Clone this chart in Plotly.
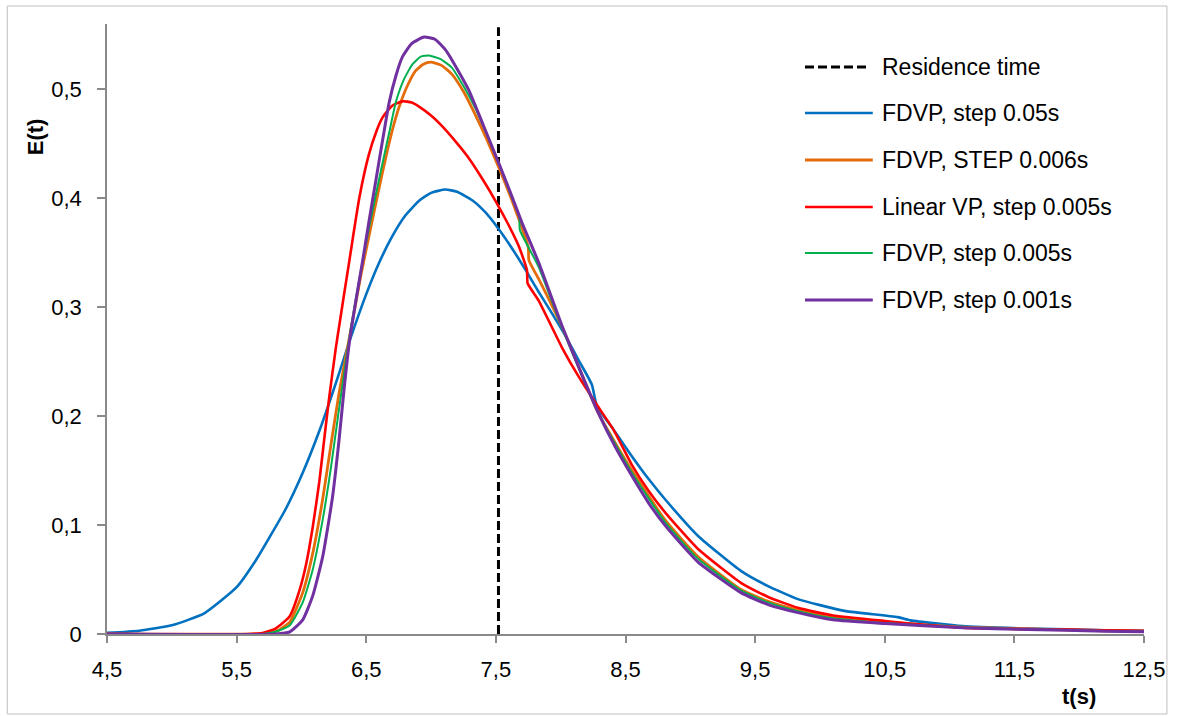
import plotly.graph_objects as go

# ---------------- data ----------------
residence_time = 7.52

t_fdvp_005 = [4.5, 4.75, 5.0, 5.25, 5.5, 5.65, 5.75, 5.88, 6.01, 6.14, 6.27, 6.38, 6.5, 6.6, 6.7,
              6.8, 6.91, 7.0, 7.11, 7.2, 7.32, 7.42, 7.52, 7.63, 7.73, 7.83, 7.94, 8.04, 8.14,
              8.24, 8.28, 8.4, 8.55, 8.68, 8.81, 9.06, 9.39, 9.6, 9.83, 10.0, 10.2, 10.6, 10.7,
              11.1, 11.6, 12.2, 12.5]
e_fdvp_005 = [0.001, 0.003, 0.008, 0.019, 0.043, 0.068, 0.088, 0.115, 0.148, 0.187, 0.232, 0.272,
              0.312, 0.341, 0.365, 0.384, 0.398, 0.405, 0.408, 0.406, 0.398, 0.387, 0.372, 0.353,
              0.334, 0.314, 0.293, 0.273, 0.251, 0.229, 0.209, 0.189, 0.163, 0.142, 0.123, 0.090,
              0.058, 0.044, 0.032, 0.0265, 0.021, 0.0155, 0.0125, 0.0072, 0.0050, 0.0035, 0.0030]

t_fdvp_0006 = [4.5, 5.65, 5.75, 5.83, 5.91, 6.01, 6.087, 6.164, 6.228, 6.29, 6.39, 6.46, 6.536,
               6.6, 6.65, 6.7, 6.754, 6.82, 6.88, 6.94, 6.997, 7.08, 7.16, 7.25, 7.34, 7.43, 7.52,
               7.64, 7.75, 7.755, 7.83, 8.01, 8.29, 8.55, 8.81, 9.06, 9.39, 9.6, 9.83, 10.1, 10.5,
               11.1, 11.6, 12.2, 12.5]
e_fdvp_0006 = [0, 0, 0.001, 0.004, 0.011, 0.038, 0.074, 0.124, 0.174, 0.221, 0.285, 0.330, 0.374,
               0.410, 0.437, 0.462, 0.484, 0.504, 0.517, 0.523, 0.525, 0.522, 0.514, 0.498, 0.477,
               0.454, 0.429, 0.393, 0.355, 0.343, 0.326, 0.282, 0.203, 0.150, 0.104, 0.071, 0.041,
               0.030, 0.022, 0.015, 0.011, 0.0062, 0.0046, 0.0030, 0.0024]

t_linear_0005 = [4.5, 5.6, 5.7, 5.8, 5.908, 5.985, 6.036, 6.087, 6.138, 6.177, 6.215, 6.267,
                 6.37, 6.446, 6.52, 6.58, 6.625, 6.7, 6.78, 6.85, 6.91, 7.0, 7.087, 7.19, 7.29,
                 7.40, 7.50, 7.60, 7.677, 7.74, 7.745, 7.83, 8.01, 8.14, 8.27, 8.41, 8.55, 8.68,
                 8.81, 9.06, 9.39, 9.6, 9.83, 10.1, 10.5, 11.1, 11.6, 12.2, 12.5]
e_linear_0005 = [0, 0, 0.001, 0.005, 0.016, 0.040, 0.064, 0.098, 0.140, 0.180, 0.218, 0.264,
                 0.343, 0.400, 0.440, 0.462, 0.474, 0.485, 0.489, 0.488, 0.484, 0.476, 0.466,
                 0.452, 0.437, 0.417, 0.397, 0.375, 0.356, 0.334, 0.322, 0.306, 0.263, 0.236,
                 0.212, 0.187, 0.155, 0.131, 0.111, 0.078, 0.047, 0.034, 0.024, 0.017, 0.012,
                 0.0057, 0.0045, 0.0035, 0.003]

t_fdvp_0005 = [4.5, 5.7, 5.8, 5.91, 6.01, 6.087, 6.164, 6.228, 6.28, 6.33, 6.38, 6.45, 6.52,
               6.575, 6.625, 6.68, 6.73, 6.79, 6.856, 6.92, 6.985, 7.07, 7.16, 7.25, 7.34, 7.43,
               7.52, 7.6, 7.68, 7.685, 7.83, 8.01, 8.29, 8.55, 8.81, 9.06, 9.39, 9.6, 9.83, 10.1,
               10.5, 11.1, 11.6, 12.2, 12.5]
e_fdvp_0005 = [0, 0, 0.002, 0.008, 0.029, 0.059, 0.105, 0.153, 0.198, 0.240, 0.280, 0.328, 0.372,
               0.404, 0.432, 0.462, 0.489, 0.509, 0.523, 0.530, 0.531, 0.528, 0.520, 0.503, 0.483,
               0.459, 0.433, 0.408, 0.383, 0.371, 0.337, 0.281, 0.203, 0.148, 0.102, 0.069,
               0.040, 0.029, 0.021, 0.0145, 0.010, 0.006, 0.0044, 0.0028, 0.0022]

t_fdvp_0001 = [4.5, 5.8, 5.91, 6.01, 6.087, 6.164, 6.24, 6.29, 6.33, 6.37, 6.42, 6.47, 6.52,
               6.575, 6.63, 6.677, 6.73, 6.78, 6.85, 6.946, 7.03, 7.113, 7.2, 7.29, 7.4, 7.523,
               7.61, 7.70, 7.83, 8.01, 8.15, 8.29, 8.42, 8.55, 8.68, 8.81, 9.06, 9.39, 9.6, 9.83,
               10.1, 10.5, 11.1, 11.6, 12.2, 12.5]
e_fdvp_0001 = [0, 0, 0.002, 0.013, 0.035, 0.071, 0.126, 0.178, 0.226, 0.268, 0.306, 0.341, 0.378,
               0.417, 0.456, 0.488, 0.513, 0.530, 0.542, 0.548, 0.546, 0.536, 0.519, 0.4995,
               0.468, 0.432, 0.406, 0.378, 0.341, 0.283, 0.242, 0.203, 0.172, 0.145, 0.120,
               0.099, 0.066, 0.038, 0.027, 0.0196, 0.013, 0.0096, 0.0057, 0.0042, 0.0026, 0.002]

x_tick_vals = [4.5, 5.5, 6.5, 7.5, 8.5, 9.5, 10.5, 11.5, 12.5]
x_tick_text = ["4,5", "5,5", "6,5", "7,5", "8,5", "9,5", "10,5", "11,5", "12,5"]
y_tick_vals = [0, 0.1, 0.2, 0.3, 0.4, 0.5]
y_tick_text = ["0", "0,1", "0,2", "0,3", "0,4", "0,5"]

series_names = ["Residence time", "FDVP, step 0.05s", "FDVP, STEP 0.006s",
                "Linear VP, step 0.005s", "FDVP, step 0.005s", "FDVP, step 0.001s"]

# ---------------- styling ----------------
FONT = "Liberation Sans"
W, H = 1177, 716
ML, MR, MT, MB = 107, 30, 24, 82
PW, PH = W - ML - MR, H - MT - MB

def px2x(px):
    return (px - ML) / PW

def py2y(py):
    return (H - MB - py) / PH

colors = ["#000000", "#0070C0", "#E46C0A", "#FF0000", "#00B050", "#7030A0"]
widths = [3, 2.6, 2.8, 2.6, 2.0, 3.0]

fig = go.Figure()

curves = [
    (t_fdvp_005, e_fdvp_005),
    (t_fdvp_0006, e_fdvp_0006),
    (t_linear_0005, e_linear_0005),
    (t_fdvp_0005, e_fdvp_0005),
    (t_fdvp_0001, e_fdvp_0001),
]

fig.add_trace(go.Scatter(x=[residence_time, residence_time], y=[0, 0.557], mode="lines",
                         name=series_names[0],
                         line=dict(color=colors[0], width=widths[0], dash="9px,4px")))
for i, (tx, ey) in enumerate(curves, start=1):
    fig.add_trace(go.Scatter(x=tx, y=ey, mode="lines", name=series_names[i],
                             line=dict(color=colors[i], width=widths[i],
                                       shape="spline", smoothing=0.5)))

shapes = []
annotations = []
# outer chart border
shapes.append(dict(type="rect", xref="paper", yref="paper",
                   x0=px2x(7), x1=px2x(1170), y0=py2y(714), y1=py2y(6),
                   line=dict(color="#BFBFBF", width=1), fillcolor="rgba(0,0,0,0)", layer="below"))

# manual legend
leg_rows = [67, 113, 160, 207, 253, 300]
for i, ry in enumerate(leg_rows):
    shapes.append(dict(type="line", xref="paper", yref="paper",
                       x0=px2x(807), x1=px2x(875 if i else 870), y0=py2y(ry), y1=py2y(ry),
                       line=dict(color=colors[i], width=widths[i] if i else 3,
                                 dash="9px,4px" if i == 0 else "solid")))
    annotations.append(dict(xref="paper", yref="paper", x=px2x(882), y=py2y(ry),
                            xanchor="left", yanchor="middle", showarrow=False,
                            text=series_names[i], font=dict(family=FONT, size=23, color="#000")))

# axis titles
annotations.append(dict(xref="paper", yref="paper", x=px2x(35), y=py2y(137), text="<b>E(t)</b>",
                        textangle=-90, showarrow=False, xanchor="center", yanchor="middle",
                        font=dict(family=FONT, size=22, color="#000")))
annotations.append(dict(xref="paper", yref="paper", x=px2x(1082), y=py2y(696), text="<b>t(s)</b>",
                        showarrow=False, xanchor="center", yanchor="middle",
                        font=dict(family=FONT, size=22, color="#000")))

axis_common = dict(showgrid=False, zeroline=False, showline=True, linecolor="#898989",
                   linewidth=1.5, ticks="outside", tickcolor="#898989", tickwidth=1.5,
                   tickfont=dict(family=FONT, size=22, color="#000"))

fig.update_layout(
    width=W, height=H,
    margin=dict(l=ML, r=MR, t=MT, b=MB),
    paper_bgcolor="white", plot_bgcolor="white",
    showlegend=False,
    shapes=shapes, annotations=annotations,
    xaxis=dict(range=[4.5, 12.5], tickvals=x_tick_vals, ticktext=x_tick_text, ticklen=7,
               ticklabelstandoff=8, **axis_common),
    yaxis=dict(range=[0, 0.56], tickvals=y_tick_vals, ticktext=y_tick_text, ticklen=8,
               ticklabelstandoff=11, **axis_common),
)

fig.write_html("out.html")
